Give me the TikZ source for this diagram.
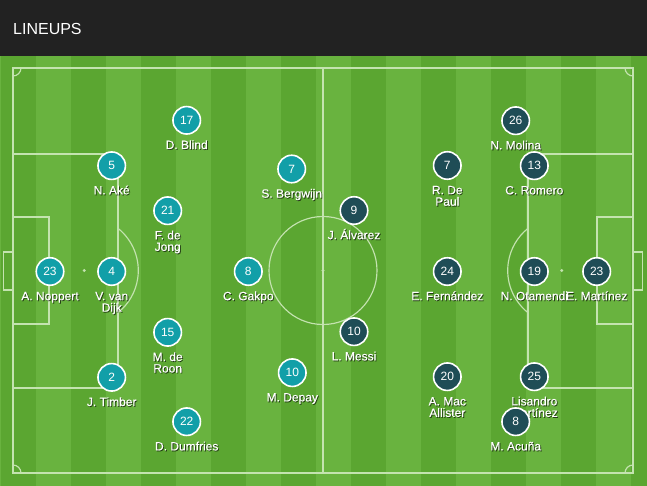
\documentclass[tikz,border=0pt]{standalone}
\usepackage{fontspec}
\setmainfont{Liberation Sans}
\newfontfamily\lblfont[FakeBold=0.35]{Liberation Sans}
\definecolor{hdr}{HTML}{222222}
\definecolor{grdark}{HTML}{5BA631}
\definecolor{grlight}{HTML}{69B33F}
\definecolor{nlteal}{HTML}{129FA8}
\definecolor{argdark}{HTML}{1F4D56}
\definecolor{fline}{HTML}{C4E3B0}
\newcommand\plab[4]{%
  \node[lblshadow] at (#2+0.9,#3+0.9) {#4};
  \node[lbl] (#1) at (#2,#3) {#4};}
\newcommand\pname[5]{% name, x, cy, line1, line2
  \plab{#1a}{#2}{#3+28.7}{#4}%
  \if\relax\detokenize{#5}\relax\else\plab{#1b}{#2}{#3+40.2}{#5}\fi}
\begin{document}
\begin{tikzpicture}[x=1pt,y=-1pt,
  player/.style={circle, draw=white, line width=1.6pt, minimum size=27.5pt, inner sep=0pt,
    font=\fontsize{12}{12}\selectfont, text=white},
  nl/.style={player, fill=nlteal},
  ar/.style={player, fill=argdark},
  lbl/.style={anchor=base, inner sep=0pt, text=white, font=\lblfont\fontsize{12}{12}\selectfont},
  lblshadow/.style={lbl, text=black, opacity=0.55},
  fl/.style={draw=fline, line width=1.15pt}]
\useasboundingbox (0,0) rectangle (647,486);
% header
\fill[hdr] (0,0) rectangle (647,55.7);
\node[anchor=base west, inner sep=0pt, text=white, font=\fontsize{16}{16}\selectfont] (title) at (13,34.3) {LINEUPS};
% pitch stripes
\begin{scope}
\clip (0,55.7) rectangle (647,486);
\fill[grlight] (0,55.7) rectangle (647,486);
\foreach \k in {0,2,...,18} {
  \fill[grdark] ({0.7+35*\k},55.7) rectangle ({35.7+35*\k},486);
}
\end{scope}
% pitch lines
\draw[fl] (13,68) rectangle (633,473);
\draw[fl] (323,68) -- (323,473);
\draw[fl] (323,270.5) circle[radius=54];
\fill[fline] (323,270.5) circle[radius=1.6];
% left
\draw[fl] (13,154) rectangle (118,388);
\draw[fl] (13,217) rectangle (49,324);
\draw[fl] (3.3,252) rectangle (13,290);
\fill[fline] (84.3,270.5) circle[radius=1.6];
\draw[fl] (84.3,270.5) ++(-51.4:54) arc[start angle=-51.4, end angle=51.4, radius=54];
% right
\draw[fl] (528,154) rectangle (633,388);
\draw[fl] (597,217) rectangle (633,324);
\draw[fl] (633,252) rectangle (642.7,290);
\fill[fline] (561.7,270.5) circle[radius=1.6];
\draw[fl] (561.7,270.5) ++(128.6:54) arc[start angle=128.6, end angle=231.4, radius=54];
% corners
\draw[fl] (21,68) arc[start angle=0, end angle=90, radius=8];
\draw[fl] (633,76) arc[start angle=90, end angle=180, radius=8];
\draw[fl] (625,473) arc[start angle=180, end angle=270, radius=8];
\draw[fl] (13,465) arc[start angle=270, end angle=360, radius=8];
% Netherlands
\node[nl] (nl23) at (50,271.5) {23}; \pname{nl23l}{50}{271.5}{A. Noppert}{}
\node[nl] (nl4) at (111.7,271.5) {4}; \pname{nl4l}{111.7}{271.5}{V. van}{Dijk}
\node[nl] (nl5) at (111.7,165.7) {5}; \pname{nl5l}{111.7}{165.7}{N. Aké}{}
\node[nl] (nl2) at (111.7,377.3) {2}; \pname{nl2l}{111.7}{377.3}{J. Timber}{}
\node[nl] (nl17) at (186.7,120.3) {17}; \pname{nl17l}{186.7}{120.3}{D. Blind}{}
\node[nl] (nl21) at (167.7,210.7) {21}; \pname{nl21l}{167.7}{210.7}{F. de}{Jong}
\node[nl] (nl15) at (167.7,332.3) {15}; \pname{nl15l}{167.7}{332.3}{M. de}{Roon}
\node[nl] (nl22) at (186.7,421.7) {22}; \pname{nl22l}{186.7}{421.7}{D. Dumfries}{}
\node[nl] (nl7) at (291.7,169) {7}; \pname{nl7l}{291.7}{169}{S. Bergwijn}{}
\node[nl] (nl8) at (248.3,271.5) {8}; \pname{nl8l}{248.3}{271.5}{C. Gakpo}{}
\node[nl] (nl10) at (292.3,372.7) {10}; \pname{nl10l}{292.3}{372.7}{M. Depay}{}
% Argentina
\node[ar] (ar9) at (354,210.5) {9}; \pname{ar9l}{354}{210.5}{J. Álvarez}{}
\node[ar] (ar10) at (354,331.7) {10}; \pname{ar10l}{354}{331.7}{L. Messi}{}
\node[ar] (ar7) at (447.3,165.5) {7}; \pname{ar7l}{447.3}{165.5}{R. De}{Paul}
\node[ar] (ar24) at (447.3,271.5) {24}; \pname{ar24l}{447.3}{271.5}{E. Fernández}{}
\node[ar] (ar20) at (447.3,376.7) {20}; \pname{ar20l}{447.3}{376.7}{A. Mac}{Allister}
\node[ar] (ar26) at (515.7,120.7) {26}; \pname{ar26l}{515.7}{120.7}{N. Molina}{}
\node[ar] (ar13) at (534.3,165.7) {13}; \pname{ar13l}{534.3}{165.7}{C. Romero}{}
\node[ar] (ar19) at (534.3,271.5) {19}; \pname{ar19l}{534.3}{271.5}{N. Otamendi}{}
\node[ar] (ar25) at (534.3,376.7) {25}; \pname{ar25l}{534.3}{376.7}{Lisandro}{Martínez}
\node[ar] (ar8) at (515.7,421.7) {8}; \pname{ar8l}{515.7}{421.7}{M. Acuña}{}
\node[ar] (ar23) at (596.7,271.5) {23}; \pname{ar23l}{596.7}{271.5}{E. Martínez}{}
\end{tikzpicture}
\end{document}
